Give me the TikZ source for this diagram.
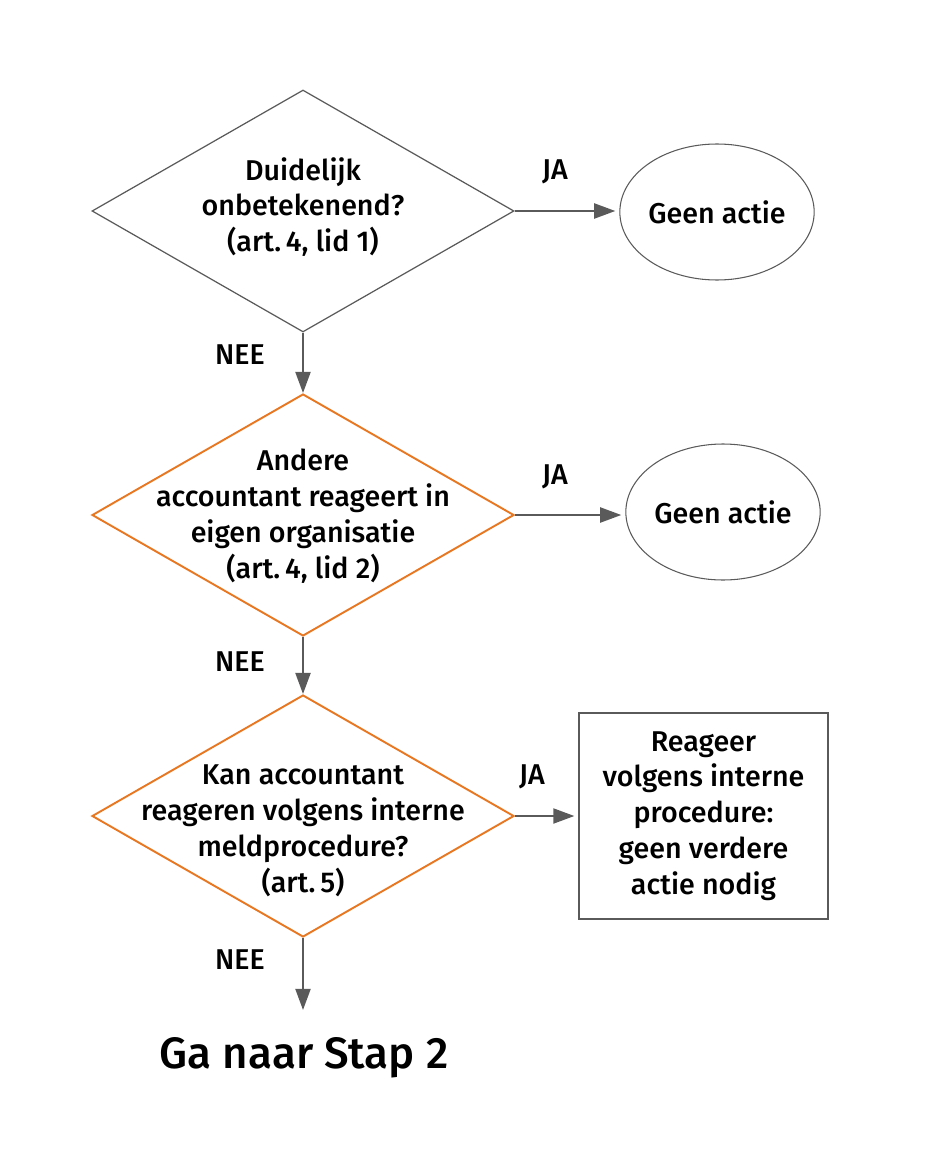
\documentclass[tikz,border=0pt]{standalone}
\usepackage{fontspec}
\setmainfont{Fira Sans Medium}
\usetikzlibrary{shapes.geometric, arrows.meta}

\definecolor{lijngrijs}{HTML}{5A5A5A}
\definecolor{kaderoranje}{HTML}{E87722}

\begin{document}
\begin{tikzpicture}[
  beslis/.style={diamond, draw=lijngrijs, line width=0.7pt, minimum width=8.44cm, minimum height=4.84cm, inner sep=0pt},
  oranje/.style={draw=kaderoranje, line width=1.1pt},
  eind/.style={ellipse, draw=lijngrijs, line width=0.6pt, minimum width=3.84cm, minimum height=2.72cm, inner sep=0pt},
  kader/.style={rectangle, draw=lijngrijs, line width=0.7pt, minimum width=4.98cm, minimum height=4.12cm},
  tekst/.style={align=center, font=\fontsize{16.3}{20.4}\selectfont},
  pijl/.style={-{Triangle[length=12pt, width=8.5pt]}, draw=lijngrijs, fill=lijngrijs, line width=1.3pt}
]
  \useasboundingbox (0,0) rectangle (18.76,-23.3);

  % ==========================================
  % 1. BESLISSINGEN (ruiten)
  % ==========================================
  \node[beslis] (d1) at (6.06,-4.22) {};
  \node[tekst] (t1) at (6.06,-4.14) {Duidelijk\\onbetekenend?\\(art.\,4, lid 1)};

  \node[beslis, oranje] (d2) at (6.06,-10.3) {};
  \node[tekst] (t2) at (6.06,-10.32) {Andere\\accountant reageert in\\eigen organisatie\\(art.\,4, lid 2)};

  \node[beslis, oranje] (d3) at (6.06,-16.32) {};
  \node[tekst] (t3) at (6.06,-16.62) {Kan accountant\\reageren volgens interne\\meldprocedure?\\(art.\,5)};

  % ==========================================
  % 2. UITKOMSTEN
  % ==========================================
  \node[eind, tekst] (e1) at (14.34,-4.24) {Geen actie};
  \node[eind, tekst] (e2) at (14.46,-10.24) {Geen actie};
  \node[kader, tekst] (b3) at (14.07,-16.32) {Reageer\\volgens interne\\procedure:\\geen verdere\\actie nodig};

  \coordinate (stap) at (6.06,-20.2);
  \node[font=\fontsize{25}{30}\selectfont] (ga) at (6.08,-21.16) {Ga naar Stap 2};

  % ==========================================
  % 3. PIJLEN EN LABELS
  % ==========================================
  \draw[pijl, shorten >=0.08cm] (d1.east) -- (d1.east -| e1.west);
  \draw[pijl, shorten >=0.08cm] (d2.east) -- (d2.east -| e2.west);
  \draw[pijl, shorten >=0.08cm] (d3.east) -- (b3.west);
  \draw[pijl] (d1.south) -- (d2.north);
  \draw[pijl] (d2.south) -- (d3.north);
  \draw[pijl] (d3.south) -- (stap);

  \node[tekst] (ja1) at (11.1,-3.44) {JA};
  \node[tekst] (ja2) at (11.1,-9.54) {JA};
  \node[tekst] (ja3) at (10.64,-15.54) {JA};
  \node[tekst] (nee1) at (4.8,-7.1) {NEE};
  \node[tekst] (nee2) at (4.8,-13.24) {NEE};
  \node[tekst] (nee3) at (4.8,-19.2) {NEE};

\end{tikzpicture}
\end{document}
